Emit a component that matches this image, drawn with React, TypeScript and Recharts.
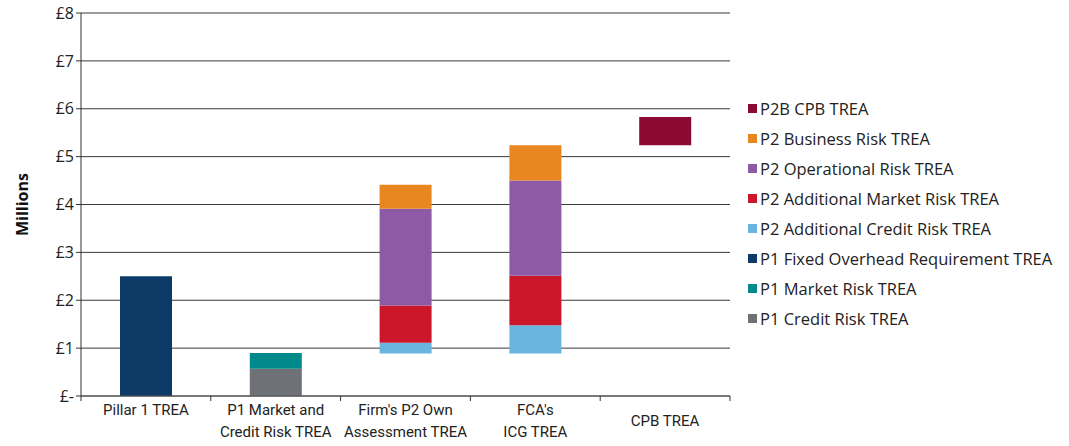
import { BarChart, Bar, XAxis, YAxis, CartesianGrid, Legend } from 'recharts';

const CATEGORIES = [
  'Pillar 1 TREA\n ',
  'P1 Market and\nCredit Risk TREA',
  "Firm's P2 Own\nAssessment TREA",
  "FCA's\nICG TREA",
  'CPB TREA',
];

// invisible floor under each column (waterfall offset)
const BASE = [0, 0, 0.89, 0.89, 5.24];
const P1_CREDIT = [0, 0.57, 0, 0, 0];
const P1_MARKET = [0, 0.33, 0, 0, 0];
const P1_FIXED_OVERHEAD = [2.5, 0, 0, 0, 0];
const P2_ADD_CREDIT = [0, 0, 0.22, 0.59, 0];
const P2_ADD_MARKET = [0, 0, 0.78, 1.03, 0];
const P2_OPERATIONAL = [0, 0, 2.02, 1.99, 0];
const P2_BUSINESS = [0, 0, 0.5, 0.74, 0];
const P2B_CPB = [0, 0, 0, 0, 0.59];

const Y_TICKS = [0, 1, 2, 3, 4, 5, 6, 7, 8];

const SERIES = [
  { key: 'p1Credit', name: 'P1 Credit Risk TREA', values: P1_CREDIT, color: '#6e7276' },
  { key: 'p1Market', name: 'P1 Market Risk TREA', values: P1_MARKET, color: '#008a8c' },
  { key: 'p1Fixed', name: 'P1 Fixed Overhead Requirement TREA', values: P1_FIXED_OVERHEAD, color: '#0d3a66' },
  { key: 'p2AddCredit', name: 'P2 Additional Credit Risk TREA', values: P2_ADD_CREDIT, color: '#6ab5df' },
  { key: 'p2AddMarket', name: 'P2 Additional Market Risk TREA', values: P2_ADD_MARKET, color: '#cc172b' },
  { key: 'p2Operational', name: 'P2 Operational Risk TREA', values: P2_OPERATIONAL, color: '#8d5aa5' },
  { key: 'p2Business', name: 'P2 Business Risk TREA', values: P2_BUSINESS, color: '#e8861f' },
  { key: 'p2bCpb', name: 'P2B CPB TREA', values: P2B_CPB, color: '#8a0a34' },
];

const data = CATEGORIES.map((name, i) => {
  const row: any = { name, base: BASE[i] };
  SERIES.forEach((s) => {
    row[s.key] = s.values[i];
  });
  return row;
});

const FONT = '"Open Sans", "Noto Sans", sans-serif';
const NARROW = 'Roboto, "Open Sans", sans-serif';

const formatPounds = (v: number) => (v === 0 ? '£-' : `£${v}`);

function CategoryTick(props: any) {
  const { x, y, payload, index, visibleTicksCount } = props;
  const lines: string[] = String(payload.value).split('\n');
  const band = 649 / CATEGORIES.length;
  const startY = lines.length === 1 ? y + 22 : y + 11;
  return (
    <g>
      <line x1={x - band / 2} y1={y - 8} x2={x - band / 2} y2={y - 3} stroke="#333" />
      {index === (visibleTicksCount ?? CATEGORIES.length) - 1 && (
        <line x1={x + band / 2} y1={y - 8} x2={x + band / 2} y2={y - 3} stroke="#333" />
      )}
      <text x={x} y={startY} textAnchor="middle" fill="#222" fontSize={15} fontFamily={NARROW}>
        {lines.map((l, i) => (
          <tspan key={i} x={x} dy={i === 0 ? 0 : 22}>
            {l}
          </tspan>
        ))}
      </text>
    </g>
  );
}

function LegendList() {
  const items = [...SERIES].reverse();
  return (
    <div style={{ fontFamily: FONT, fontSize: 16.5, color: '#222' }}>
      {items.map((s) => (
        <div key={s.key} style={{ display: 'flex', alignItems: 'center', height: 30, whiteSpace: 'nowrap' }}>
          <span style={{ display: 'inline-block', width: 9, height: 9, background: s.color, marginRight: 3 }} />
          {s.name}
        </div>
      ))}
    </div>
  );
}

export default function App() {
  return (
    <div style={{ position: 'absolute', left: 0, top: 0, width: 1069, height: 446, background: '#fff' }}>
      <BarChart
        width={1069}
        height={446}
        data={data}
        margin={{ top: 13, right: 19, bottom: 0, left: 0 }}
        barSize={52}
      >
        <CartesianGrid vertical={false} stroke="#3a3a3a" strokeWidth={1} />
        <XAxis
          dataKey="name"
          axisLine={{ stroke: '#555' }}
          tickLine={false}
          tick={<CategoryTick />}
          height={50}
          interval={0}
        />
        <YAxis
          width={81}
          domain={[0, 8]}
          ticks={Y_TICKS}
          tickFormatter={formatPounds}
          axisLine={{ stroke: '#333' }}
          tickLine={{ stroke: '#333' }}
          tickSize={5}
          tick={{ fill: '#222', fontSize: 16, fontFamily: FONT }}
          label={{
            content: (p: any) => {
              const vb = p.viewBox || {};
              const cx = (vb.x ?? 0) + 22;
              const cy = (vb.y ?? 0) + (vb.height ?? 0) / 2;
              return (
                <text
                  x={cx}
                  y={cy}
                  transform={`rotate(-90 ${cx} ${cy})`}
                  textAnchor="middle"
                  dominantBaseline="central"
                  fontWeight="bold"
                  fontSize={16}
                  fontFamily={FONT}
                  fill="#111"
                >
                  Millions
                </text>
              );
            },
          }}
        />
        <Legend
          layout="vertical"
          align="right"
          verticalAlign="top"
          wrapperStyle={{ left: 748, top: 93, width: 320 }}
          content={() => <LegendList />}
        />
        <Bar dataKey="base" stackId="a" fill="transparent" isAnimationActive={false} legendType="none" />
        {SERIES.map((s) => (
          <Bar key={s.key} dataKey={s.key} name={s.name} stackId="a" fill={s.color} isAnimationActive={false} />
        ))}
      </BarChart>
    </div>
  );
}
